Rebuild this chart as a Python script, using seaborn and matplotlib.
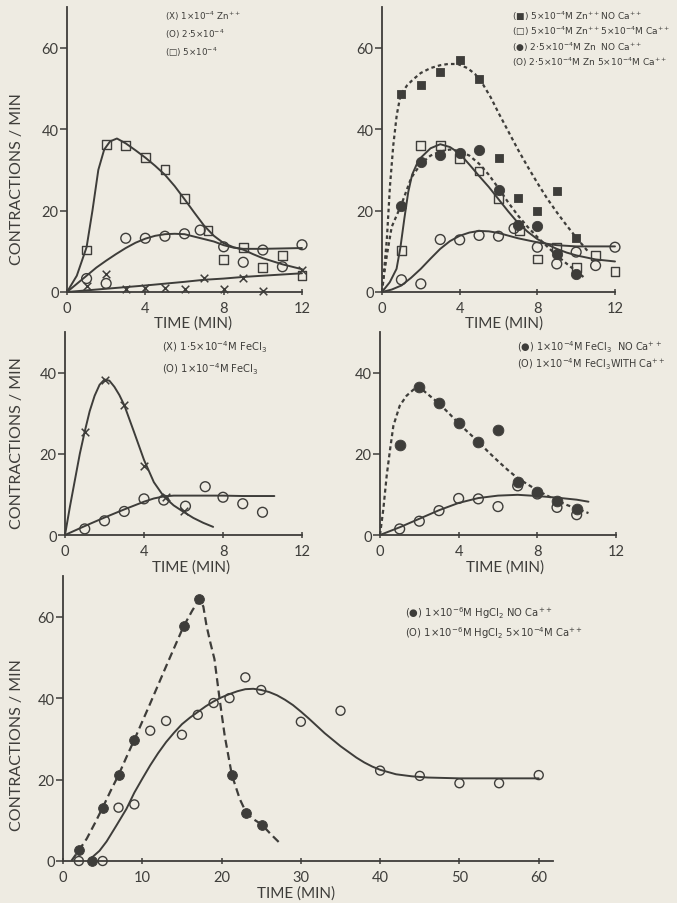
import numpy as np
import pandas as pd
import matplotlib
matplotlib.use("Agg")
import matplotlib.pyplot as plt
import seaborn as sns

# ---------------------------------------------------------------- data
# Panel A: Zn++ at three concentrations
zn1_t = [1, 2, 3, 4, 5, 6, 7, 8, 9, 10, 12]
zn1_v = [1.5, 4.4, 0.7, 1.0, 1.0, 0.7, 3.4, 0.7, 3.4, 0.3, 5.5]
zn25_t = [1, 2, 3, 4, 5, 6, 6.8, 8, 9, 10, 11, 12]
zn25_v = [3.3, 2.1, 13.2, 13.2, 13.7, 14.3, 15.2, 11.1, 7.3, 10.3, 6.2, 11.6]
zn5_t = [1, 2, 3, 4, 5, 6, 7.2, 8, 9, 10, 11, 12]
zn5_v = [10.3, 36.3, 36.0, 33.1, 30.1, 23.0, 15.2, 7.9, 11.0, 6.1, 8.9, 4.0]

zn1_fit_t = [0, 2, 4, 6, 7, 8, 9, 10, 12]
zn1_fit_v = [0, 0.8, 1.6, 2.5, 3.0, 3.3, 3.7, 4.0, 4.6]
zn25_fit_t = [0, 0.5, 1, 1.5, 2, 2.5, 3, 3.5, 4, 4.5, 5, 5.5, 6, 6.5, 7, 7.5, 8, 8.5, 9, 10, 11, 12]
zn25_fit_v = [0, 2.0, 4.0, 6.0, 7.7, 9.3, 10.8, 12.1, 13.1, 13.8, 14.2, 14.3, 14.2, 13.6, 13.0,
              12.4, 11.5, 10.9, 10.6, 10.6, 10.7, 10.8]
zn5_fit_t = [0, 0.5, 1, 1.3, 1.6, 1.9, 2.2, 2.55, 3, 3.5, 4, 4.5, 5, 5.5, 6, 6.5, 7, 7.5, 8,
             8.5, 9, 9.5, 10, 11, 12]
zn5_fit_v = [0, 4.0, 11.0, 20.0, 30.0, 35.0, 37.0, 37.7, 36.5, 34.8, 33.0, 31.0, 28.8, 26.0,
             22.8, 19.5, 16.3, 13.8, 12.0, 11.0, 10.4, 9.3, 8.3, 6.8, 5.6]

# Panel B: Zn++ with and without Ca++
znB_nca5_t = [1, 2, 3, 4, 5, 6, 7, 8, 9, 10]
znB_nca5_v = [48.7, 50.8, 54.1, 57.1, 52.2, 33.0, 23.2, 20.0, 24.8, 13.3]
znB_ca5_t = [1, 2, 3, 4, 5, 6, 7.1, 8, 9, 10, 11, 12]
znB_ca5_v = [10.2, 36.0, 36.0, 32.8, 29.7, 23.0, 15.1, 8.1, 11.0, 6.1, 9.0, 5.0]
znB_nca25_t = [1, 2, 3, 4, 5, 6, 7, 8, 9, 10]
znB_nca25_v = [21.1, 31.9, 33.7, 34.1, 34.9, 25.0, 16.4, 16.2, 9.4, 4.4]
znB_ca25_t = [1, 2, 3, 4, 5, 6, 6.8, 8, 9, 10, 11, 12]
znB_ca25_v = [3.0, 2.0, 12.9, 12.8, 13.9, 13.7, 15.6, 11.0, 6.9, 9.8, 6.5, 11.0]

znB_nca5_fit_t = [0, 0.12, 0.25, 0.41, 0.58, 0.76, 0.96, 1.3, 1.6, 2.0, 2.5, 3.0, 3.4, 3.9, 4.4,
                  4.8, 5.2, 5.6, 6.0, 6.5, 7.0, 7.5, 8.0, 8.5, 9.0, 9.5, 10.0, 10.6]
znB_nca5_fit_v = [0, 6.0, 13.0, 26.0, 36.0, 43.5, 48.5, 50.8, 52.2, 53.8, 55.0, 55.7, 56.0, 56.0,
                  55.0, 53.5, 51.0, 47.8, 44.0, 39.5, 35.0, 30.8, 26.8, 23.0, 19.6, 16.4, 13.4, 10.0]
znB_nca25_fit_t = [0, 0.1, 0.25, 0.5, 1.0, 1.5, 2.0, 2.5, 3.0, 3.5, 4.0, 4.5, 5.0, 5.5, 6.0, 6.5,
                   7.0, 7.5, 8.0, 8.5, 9.0, 9.5, 10.0, 10.4]
znB_nca25_fit_v = [0, 4.0, 9.0, 16.0, 21.5, 28.0, 31.5, 33.5, 34.5, 35.0, 34.6, 33.5, 31.5, 28.8,
                   25.5, 22.0, 18.8, 16.0, 13.5, 11.2, 9.0, 7.0, 5.1, 3.6]
znB_ca5_fit_t = [0, 0.4, 0.75, 0.95, 1.15, 1.35, 1.55, 1.8, 2.0, 2.5, 3.0, 3.5, 4.0, 4.5, 5.0, 5.5,
                 6.0, 6.5, 7.0, 7.5, 8.0, 8.5, 9.0, 9.5, 10.0, 11.0, 12.0]
znB_ca5_fit_v = [0, 2.4, 5.7, 11.0, 18.0, 24.5, 28.8, 31.5, 33.0, 35.3, 36.3, 35.6, 34.0, 31.3,
                 28.5, 25.8, 22.8, 19.8, 17.0, 14.8, 13.0, 11.7, 10.6, 9.7, 9.0, 8.0, 7.5]
znB_ca25_fit_t = [0, 0.5, 1, 1.5, 2, 2.5, 3, 3.5, 4, 4.5, 5, 5.5, 6, 7, 8, 9, 10, 11, 12]
znB_ca25_fit_v = [0, 0.6, 1.6, 3.5, 5.7, 8.2, 10.6, 12.5, 13.8, 14.6, 15.0, 14.9, 14.5, 13.2,
                  12.2, 11.5, 11.2, 11.2, 11.2]

# Panel C: FeCl3 at two concentrations
fe15_t = [1, 2, 3, 4, 5.1, 6]
fe15_v = [25.3, 38.3, 31.9, 17.1, 9.3, 6.0]
fe1_t = [1, 2, 3, 4, 5, 6.1, 7.1, 8, 9, 10]
fe1_v = [1.5, 3.5, 5.8, 8.9, 8.6, 7.1, 11.9, 9.3, 7.7, 5.6]
fe15_fit_t = [0, 0.25, 0.5, 0.75, 1.0, 1.25, 1.5, 1.75, 2.0, 2.25, 2.5, 2.75, 3.0, 3.5, 4.0, 4.5,
              5.0, 5.5, 6.0, 6.5, 7.0, 7.5]
fe15_fit_v = [0, 7.0, 13.5, 20.0, 25.5, 30.5, 34.3, 37.0, 38.3, 38.0, 36.5, 34.5, 32.0, 25.3,
              18.5, 13.0, 9.5, 7.3, 5.7, 4.2, 3.0, 2.0]
fe1_fit_t = [0, 1, 2, 3, 4, 4.5, 5, 5.5, 6, 7, 8, 9, 10, 10.6]
fe1_fit_v = [0, 2.2, 4.3, 6.3, 8.2, 9.0, 9.5, 9.7, 9.7, 9.7, 9.7, 9.6, 9.6, 9.6]

# Panel D: FeCl3 with and without Ca++
feD_nca_t = [1, 2, 3, 4, 5, 6, 7, 8, 9, 10]
feD_nca_v = [22.2, 36.4, 32.4, 27.5, 23.0, 25.8, 13.1, 10.5, 8.4, 6.4]
feD_ca_t = [1, 2, 3, 4, 5, 6, 7, 8, 9, 10]
feD_ca_v = [1.5, 3.4, 6.0, 9.0, 8.9, 7.0, 12.1, 10.1, 6.8, 5.0]
feD_nca_fit_t = [0, 0.17, 0.34, 0.51, 0.68, 1.0, 1.35, 1.7, 2.0, 2.5, 3.0, 3.5, 4.0, 4.5, 5.0,
                 5.5, 6.0, 6.5, 7.0, 7.5, 8.0, 8.5, 9.0, 9.5, 10.0, 10.6]
feD_nca_fit_v = [0, 6.4, 14.6, 21.0, 26.9, 31.8, 34.3, 35.8, 36.4, 34.4, 32.4, 30.0, 27.5, 25.2,
                 23.0, 20.5, 18.2, 16.0, 14.0, 12.5, 11.0, 9.7, 8.5, 7.4, 6.5, 5.4]
feD_ca_fit_t = [0, 1, 2, 3, 4, 5, 6, 7, 8, 9, 10, 10.6]
feD_ca_fit_v = [0, 1.9, 4.0, 6.1, 7.9, 9.1, 9.7, 9.9, 9.6, 9.2, 8.7, 8.2]

# Panel E: HgCl2 with and without Ca++
hg_nca_t = [2, 3.6, 5, 7, 9, 15.2, 17.2, 21.3, 23.1, 25.1]
hg_nca_v = [2.6, 0.0, 13.1, 21.1, 29.8, 57.6, 64.3, 21.1, 11.9, 8.9]
hg_ca_t = [2, 5, 7, 9, 11, 13, 15, 17, 19, 21, 23, 25, 30, 35, 40, 45, 50, 55, 60]
hg_ca_v = [0, 0, 13.1, 13.9, 32.0, 34.4, 31.0, 35.9, 38.8, 40.0, 45.1, 42.0, 34.2, 36.9, 22.2,
           20.9, 19.1, 19.1, 21.1]
hg_nca_fit_t = [1.05, 2, 3, 4, 5, 6, 7, 8, 9, 11, 13, 15.2, 16.3, 17.2, 17.7, 18.1, 18.6, 19.1,
                19.75, 20.4, 21.3, 22.3, 23.1, 24, 25.1, 26.2, 27.4]
hg_nca_fit_v = [0, 2.6, 5.5, 9.2, 13.1, 17.2, 21.1, 25.5, 29.8, 38.7, 47.8, 57.6, 61.5, 64.3,
                62.5, 57.8, 53.5, 49.6, 39.8, 30.7, 21.1, 15.2, 11.9, 10.3, 8.9, 6.6, 4.3]
hg_ca_fit_t = [3.15, 4.6, 5.5, 6.7, 8, 9, 10, 11, 12, 13, 14, 15, 16, 17, 18, 19, 20, 21, 22, 23,
               24, 25, 26, 27, 28, 29, 30, 31, 32, 33, 34, 35, 36, 37, 38, 39, 40, 42, 44, 46,
               48, 50, 55, 60]
hg_ca_fit_v = [0, 2.5, 4.8, 8.6, 12.8, 16.8, 20.2, 23.5, 26.5, 29.2, 31.5, 33.6, 35.2, 36.6,
               38.0, 39.2, 40.2, 41.0, 41.7, 42.2, 42.3, 42.0, 41.5, 40.7, 39.6, 38.3, 36.7,
               35.0, 33.2, 31.4, 29.8, 28.2, 26.8, 25.4, 24.2, 23.2, 22.4, 21.3, 20.8, 20.5,
               20.4, 20.3, 20.3, 20.3]

ticks_short = [0, 4, 8, 12]
ticks_long = [0, 10, 20, 30, 40, 50, 60]
ticks_y70 = [0, 20, 40, 60]
ticks_y50 = [0, 20, 40]

# ---------------------------------------------------------------- style
sns.set_theme(style="ticks")
PAPER = "#eeebe2"
INK = "#3e3d3a"
plt.rcParams["font.family"] = ["Lato", "DejaVu Sans"]
plt.rcParams["mathtext.fontset"] = "dejavusans"
plt.rcParams["text.color"] = INK
plt.rcParams["axes.labelcolor"] = INK

W, H = 677, 904
fig = plt.figure(figsize=(W / 100, H / 100), dpi=100, facecolor=PAPER)


def axes_px(left, top_zero, right, top):
    """Axes box from pixel edges (x left/right, y of zero line and top)."""
    return fig.add_axes([left / W, 1 - top_zero / H, (right - left) / W, (top_zero - top) / H])


def frame(ax, xmax, ymax, xticks, yticks):
    ax.set_facecolor("none")
    ax.set_xlim(0, xmax)
    ax.set_ylim(0, ymax)
    sns.despine(ax=ax)
    for s in ("left", "bottom"):
        ax.spines[s].set_color(INK)
        ax.spines[s].set_linewidth(1.3)
    ax.set_xticks(xticks)
    ax.set_yticks(yticks)
    ax.tick_params(axis="y", direction="out", length=5, width=1.1, color=INK,
                   labelsize=10.5, labelcolor=INK, pad=1)
    ax.tick_params(axis="x", direction="inout", length=5, width=1.1, color=INK,
                   labelsize=10.5, labelcolor=INK, pad=4)
    ax.set_xlabel("")
    ax.set_ylabel("")


def curve(ax, t, v, dash=None, lw=1.4):
    kw = {}
    if dash is not None:
        kw["linestyle"] = (0, dash)
    sns.lineplot(x=t, y=v, ax=ax, color=INK, lw=lw, sort=False, estimator=None,
                 clip_on=False, **kw)


def points(ax, t, v, marker, filled, s):
    if marker == "x":
        sns.scatterplot(x=t, y=v, ax=ax, marker="x", s=s, color=INK, linewidth=1.1,
                        clip_on=False, zorder=4)
    elif filled:
        sns.scatterplot(x=t, y=v, ax=ax, marker=marker, s=s, color=INK, edgecolor=INK,
                        linewidth=0.6, clip_on=False, zorder=4)
    else:
        sns.scatterplot(x=t, y=v, ax=ax, marker=marker, s=s, facecolor="none",
                        edgecolor=INK, linewidth=1.0, clip_on=False, zorder=4)


def label_axes(ax, ylab_xy=None, xlab_xy=None):
    if ylab_xy is not None:
        ax.set_ylabel("CONTRACTIONS / MIN", fontsize=11.5)
        ax.yaxis.set_label_coords(*ylab_xy)
    if xlab_xy is not None:
        ax.set_xlabel("TIME (MIN)", fontsize=11)
        ax.xaxis.set_label_coords(*xlab_xy)


def key(x, y, text, size=6.6):
    fig.text(x / W, 1 - y / H, text, fontsize=size, color=INK, ha="left", va="center",
             family="DejaVu Sans")


# ---------------------------------------------------------------- panel A
axA = axes_px(67, 293, 302, 8)
frame(axA, 12, 70, ticks_short, ticks_y70)
curve(axA, zn5_fit_t, zn5_fit_v)
curve(axA, zn25_fit_t, zn25_fit_v)
curve(axA, zn1_fit_t, zn1_fit_v)
points(axA, zn5_t, zn5_v, "s", False, 40)
points(axA, zn25_t, zn25_v, "o", False, 50)
points(axA, zn1_t, zn1_v, "x", False, 30)
label_axes(axA, (-0.183, 0.40), (0.535, -0.081))
key(165, 16, r"(X) 1$\times$10$^{-4}$ Zn$^{++}$", 6.3)
key(165, 34, r"(O) 2$\cdot$5$\times$10$^{-4}$", 6.3)
key(165, 52, "(\u25A1) 5$\\times$10$^{-4}$", 6.3)

# ---------------------------------------------------------------- panel B
axB = axes_px(382, 293, 615, 8)
frame(axB, 12, 70, ticks_short, ticks_y70)
curve(axB, znB_nca5_fit_t, znB_nca5_fit_v, dash=(1.6, 1.4), lw=1.6)
curve(axB, znB_nca25_fit_t, znB_nca25_fit_v, dash=(1.6, 1.4), lw=1.6)
curve(axB, znB_ca5_fit_t, znB_ca5_fit_v)
curve(axB, znB_ca25_fit_t, znB_ca25_fit_v)
points(axB, znB_nca5_t, znB_nca5_v, "s", True, 40)
points(axB, znB_ca5_t, znB_ca5_v, "s", False, 40)
points(axB, znB_nca25_t, znB_nca25_v, "o", True, 55)
points(axB, znB_ca25_t, znB_ca25_v, "o", False, 50)
label_axes(axB, None, (0.525, -0.081))
key(512, 16, "(\u25A0) 5$\\times$10$^{-4}$M Zn$^{++}$NO Ca$^{++}$", 6.45)
key(512, 31, "(\u25A1) 5$\\times$10$^{-4}$M Zn$^{++}$5$\\times$10$^{-4}$M Ca$^{++}$", 6.45)
key(512, 47, "(\u25CF) 2$\\cdot$5$\\times$10$^{-4}$M Zn  NO Ca$^{++}$", 6.45)
key(512, 62, "(O) 2$\\cdot$5$\\times$10$^{-4}$M Zn 5$\\times$10$^{-4}$M Ca$^{++}$", 6.45)

# ---------------------------------------------------------------- panel C
axC = axes_px(65, 536, 302, 333)
frame(axC, 12, 50, ticks_short, ticks_y50)
curve(axC, fe15_fit_t, fe15_fit_v)
curve(axC, fe1_fit_t, fe1_fit_v)
points(axC, fe15_t, fe15_v, "x", False, 30)
points(axC, fe1_t, fe1_v, "o", False, 50)
label_axes(axC, (-0.173, 0.46), (0.532, -0.118))
key(162, 347, r"(X) 1$\cdot$5$\times$10$^{-4}$M FeCl$_3$", 7.2)
key(162, 369, r"(O) 1$\times$10$^{-4}$M FeCl$_3$", 7.2)

# ---------------------------------------------------------------- panel D
axD = axes_px(380, 536, 616, 333)
frame(axD, 12, 50, ticks_short, ticks_y50)
curve(axD, feD_nca_fit_t, feD_nca_fit_v, dash=(1.8, 1.4), lw=1.6)
curve(axD, feD_ca_fit_t, feD_ca_fit_v)
points(axD, feD_nca_t, feD_nca_v, "o", True, 60)
points(axD, feD_ca_t, feD_ca_v, "o", False, 50)
label_axes(axD, None, (0.53, -0.118))
key(517, 347, "(\u25CF) 1$\\times$10$^{-4}$M FeCl$_3$  NO Ca$^{++}$", 7.0)
key(517, 364, "(O) 1$\\times$10$^{-4}$M FeCl$_3$WITH Ca$^{++}$", 7.0)

# ---------------------------------------------------------------- panel E
axE = axes_px(63, 862, 553, 577)
frame(axE, 61.8, 70, ticks_long, ticks_y70)
curve(axE, hg_nca_fit_t, hg_nca_fit_v, dash=(3.6, 2.0), lw=1.6)
curve(axE, hg_ca_fit_t, hg_ca_fit_v)
points(axE, hg_nca_t, hg_nca_v, "o", True, 50)
points(axE, hg_ca_t, hg_ca_v, "o", False, 42)
label_axes(axE, (-0.080, 0.41), (0.475, -0.084))
key(405, 613, "(\u25CF) 1$\\times$10$^{-6}$M HgCl$_2$ NO Ca$^{++}$", 7.2)
key(405, 633, "(O) 1$\\times$10$^{-6}$M HgCl$_2$ 5$\\times$10$^{-4}$M Ca$^{++}$", 7.2)

for ax in (axA, axB, axC, axD, axE):
    leg = ax.get_legend()
    if leg is not None:
        leg.remove()

fig.savefig("out.png", dpi=100, facecolor=PAPER)
